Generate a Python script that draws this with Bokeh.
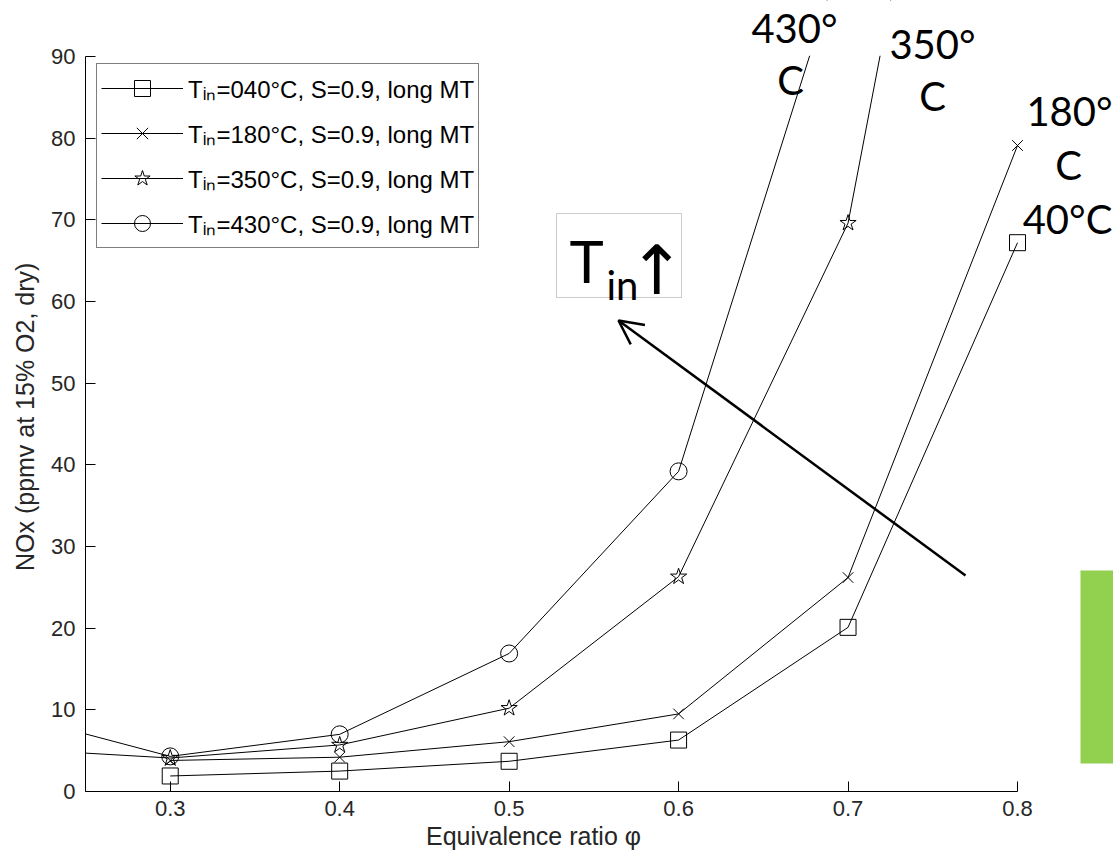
from bokeh.plotting import figure
from bokeh.models import (Range1d, FixedTicker, Legend, LegendItem, Label,
                          BoxAnnotation, Arrow, OpenHead)
from bokeh.embed import file_html
from bokeh.resources import INLINE

# ---------------- data ----------------
phi_040 = [0.3, 0.4, 0.5, 0.6, 0.7, 0.8]
nox_040 = [1.9, 2.5, 3.7, 6.3, 20.1, 67.2]

phi_180 = [0.3, 0.4, 0.5, 0.6, 0.7, 0.8]
nox_180 = [3.8, 4.2, 6.1, 9.5, 26.2, 79.1]

phi_350 = [0.2, 0.3, 0.4, 0.5, 0.6, 0.7, 0.8]
nox_350 = [5.3, 4.1, 5.7, 10.2, 26.3, 69.6, 178.0]

phi_430 = [0.2, 0.3, 0.4, 0.5, 0.6, 0.7]
nox_430 = [9.8, 4.3, 7.0, 16.9, 39.2, 105.0]

legend_labels = ["040", "180", "350", "430"]
x_ticks = [0.3, 0.4, 0.5, 0.6, 0.7, 0.8]
y_ticks = [0, 10, 20, 30, 40, 50, 60, 70, 80, 90]
curve_labels = [("430°", "C"), ("350°", "C"), ("180°", "C"), ("40°C", "")]

# ---------------- layout ----------------
W, H = 1113, 854
FL, FR, FT, FB = 85, 1017, 56, 791     # axes box edges in pixels
XMIN, XMAX, YMIN, YMAX = 0.25, 0.8, 0.0, 90.0


def dx(px):
    return XMIN + (px - FL) * (XMAX - XMIN) / (FR - FL)


def dy(py):
    return YMIN + (FB - py) * (YMAX - YMIN) / (FB - FT)


X_VIEW_END = dx(W)
Y_VIEW_END = dy(0)
NB = "\u00a0"

AX_FONT = "Liberation Sans"
ANN_FONT = "Lato"

p = figure(width=W, height=H, output_backend="svg", toolbar_location=None,
           x_range=Range1d(XMIN, X_VIEW_END), y_range=Range1d(YMIN, Y_VIEW_END),
           min_border_left=FL, min_border_right=0,
           min_border_top=0, min_border_bottom=H - FB)
p.outline_line_color = None
p.grid.visible = False
p.background_fill_color = "white"
p.border_fill_color = "white"

p.xaxis.ticker = FixedTicker(ticks=x_ticks)
p.yaxis.ticker = FixedTicker(ticks=y_ticks)
p.xaxis.bounds = (XMIN, XMAX)
p.yaxis.bounds = (YMIN, YMAX)
for ax in (p.xaxis[0], p.yaxis[0]):
    ax.major_tick_in = 10
    ax.major_tick_out = 0
    ax.minor_tick_line_color = None
    ax.axis_line_color = "black"
    ax.major_tick_line_color = "black"
    ax.major_label_text_font = AX_FONT
    ax.major_label_text_font_size = "22px"
    ax.major_label_text_color = "#262626"
    ax.axis_label_text_font = AX_FONT
    ax.axis_label_text_font_size = "25px"
    ax.axis_label_text_font_style = "normal"
    ax.axis_label_text_color = "#262626"
# the axis label is centred on the whole drawing area, which extends past the
# axes box; trailing no-break spaces move the visible text back over the box
p.xaxis.axis_label = "Equivalence ratio φ" + NB * 19
p.yaxis.axis_label = "NOx (ppmv at 15% O2, dry)" + NB * 6
p.xaxis.major_label_standoff = 9
p.yaxis.major_label_standoff = 10
p.xaxis.axis_label_standoff = 3
p.yaxis.axis_label_standoff = 9

series = [
    (phi_040, nox_040, "square", 16),
    (phi_180, nox_180, "x", 15),
    (phi_350, nox_350, "star", 17),
    (phi_430, nox_430, "circle", 17),
]
items = []
for (xs, ys, mk, sz), lab in zip(series, legend_labels):
    lr = p.line(xs, ys, line_color="black", line_width=1)
    sr = p.scatter(xs, ys, marker=mk, size=sz, fill_color=None,
                   line_color="black", line_width=1)
    items.append(LegendItem(label="T\u1d62\u2099=" + lab + "°C, S=0.9, long MT",
                            renderers=[lr, sr]))

# the axes box is open above y = 90: a white band (drawn after the curves)
# hides the parts of the curves that run past the top of the axes
p.quad(left=[XMIN], right=[X_VIEW_END], bottom=[YMAX + 0.08], top=[Y_VIEW_END],
       fill_color="white", fill_alpha=1, line_color=None)

PAD, GH, SP, GW, STAND = 4, 40, 5, 82, 5
LEG_L, LEG_B = 96, 248
legend = Legend(items=items, location=(LEG_L - FL, FB - LEG_B),
                padding=PAD, spacing=SP, glyph_height=GH, glyph_width=GW,
                label_height=28, label_standoff=STAND, margin=0,
                border_line_color="black", border_line_width=1,
                background_fill_color="white", background_fill_alpha=1,
                label_text_font=AX_FONT, label_text_font_size="24px",
                label_text_color="black")
p.add_layout(legend)

# T_in arrow annotation
p.add_layout(BoxAnnotation(left=dx(556), right=dx(681), top=dy(213), bottom=dy(297),
                           fill_color=None, line_color="#555555", line_width=1))
p.add_layout(Label(x=dx(569), y=dy(260), text="T", text_font=ANN_FONT,
                   text_font_size="58px", text_color="black", text_baseline="alphabetic"))
p.add_layout(Label(x=dx(606), y=dy(284), text="in", text_font=ANN_FONT,
                   text_font_size="40px", text_color="black", text_baseline="alphabetic"))
p.add_layout(Label(x=dx(628), y=dy(270), text="↑", text_font="DejaVu Sans",
                   text_font_size="68px", text_color="black", text_baseline="alphabetic"))
p.add_layout(Arrow(end=OpenHead(size=24, line_width=2.5, line_color="black"),
                   x_start=dx(965), y_start=dy(575), x_end=dx(618), y_end=dy(320),
                   line_width=2.5, line_color="black"))

# curve labels
pos = [((794, 27), (790, 79)), ((932, 43), (932, 95)),
       ((1069, 110), (1068, 164)), ((1067, 218), None)]
for (t1, t2), (a, b) in zip(curve_labels, pos):
    p.add_layout(Label(x=dx(a[0]), y=dy(a[1]), text=t1, text_font=ANN_FONT,
                       text_font_size="40px", text_color="black",
                       text_align="center", text_baseline="alphabetic"))
    if t2:
        p.add_layout(Label(x=dx(b[0]), y=dy(b[1]), text=t2, text_font=ANN_FONT,
                           text_font_size="40px", text_color="black",
                           text_align="center", text_baseline="alphabetic"))

# green tab at right
p.add_layout(BoxAnnotation(left=dx(1080), top=dy(570), bottom=dy(763),
                           fill_color="#92D050", fill_alpha=1, line_color=None))

open("out.html", "w").write(file_html(p, INLINE))
